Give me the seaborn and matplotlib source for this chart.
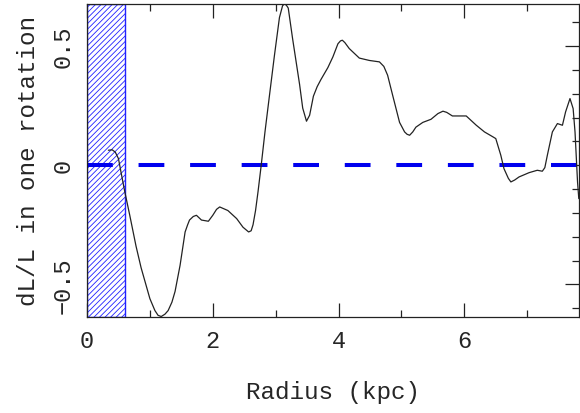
import matplotlib
matplotlib.use("Agg")
import matplotlib.pyplot as plt
import seaborn as sns
import pandas as pd

# curve
radius = [0.34, 0.40, 0.45, 0.50, 0.55, 0.60, 0.68, 0.78, 0.86, 1.00, 1.08, 1.13, 1.18, 1.24, 1.29,
          1.35, 1.40, 1.48, 1.56, 1.60, 1.63, 1.69, 1.74, 1.82, 1.93, 2.00, 2.06, 2.11, 2.24, 2.38, 2.48, 2.57,
          2.61, 2.64, 2.68, 2.72, 2.77, 2.83, 2.90, 2.98, 3.06, 3.11, 3.14, 3.17, 3.20, 3.27, 3.38, 3.43, 3.49,
          3.54, 3.60, 3.66, 3.72, 3.83, 3.91, 3.99, 4.03, 4.06, 4.10, 4.17, 4.33, 4.49, 4.65, 4.72, 4.78, 4.86,
          4.97, 5.05, 5.09, 5.13, 5.18, 5.23, 5.34, 5.47, 5.58, 5.66, 5.72, 5.81, 6.03, 6.19, 6.32, 6.45, 6.50, 6.58,
          6.63, 6.70, 6.74, 6.80, 6.87, 7.03, 7.16, 7.24, 7.28, 7.32, 7.40, 7.48, 7.56, 7.61, 7.68, 7.73, 7.76,
          7.80, 7.82]
dL_L = [0.063, 0.065, 0.055, 0.028, -0.042, -0.11, -0.21, -0.34, -0.43, -0.56, -0.61, -0.63, -0.635, -0.625, -0.61,
        -0.575, -0.53, -0.42, -0.28, -0.25, -0.23, -0.215, -0.21, -0.23, -0.235, -0.21, -0.185, -0.175, -0.19, -0.224, -0.26, -0.28,
        -0.275, -0.25, -0.19, -0.11, 0.0, 0.14, 0.29, 0.46, 0.62, 0.67, 0.677, 0.672, 0.66, 0.53, 0.34, 0.24, 0.185,
        0.21, 0.29, 0.33, 0.36, 0.41, 0.455, 0.51, 0.522, 0.525, 0.515, 0.49, 0.45, 0.44, 0.434, 0.415, 0.378, 0.294,
        0.18, 0.14, 0.13, 0.126, 0.14, 0.16, 0.18, 0.193, 0.217, 0.227, 0.222, 0.207, 0.207, 0.168, 0.14, 0.12, 0.112, 0.042,
        -0.014, -0.055, -0.07, -0.062, -0.049, -0.031, -0.021, -0.025, -0.01, 0.042, 0.14, 0.175, 0.168, 0.224, 0.28, 0.238, 0.14,
        -0.07, -0.14]

zero_x = [0.0, 7.83]
zero_y = [0.0, 0.0]
inner_edge = 0.6
x_range = (0.0, 7.83)
y_range = (-0.637, 0.677)

curve = pd.DataFrame({"radius": radius, "dL_L": dL_L})
zero = pd.DataFrame({"radius": zero_x, "dL_L": zero_y})

sns.set_style("ticks")
plt.rcParams["font.family"] = ["Liberation Mono", "DejaVu Sans Mono"]
plt.rcParams["hatch.color"] = "#2020ff"
plt.rcParams["hatch.linewidth"] = 0.6

fig = plt.figure(figsize=(5.8, 4.14), dpi=100)
ax = fig.add_axes([87 / 580, 1 - 318 / 414, 1 - 87 / 580 - 0.001, (318 - 5) / 414])

ax.axvspan(0, inner_edge, facecolor="white", edgecolor="#2020ff", hatch="//////", linewidth=1.0, zorder=1)
sns.lineplot(data=zero, x="radius", y="dL_L", ax=ax, color="#0000ee", linewidth=2.9,
             dashes=False, zorder=2).lines[-1].set_dashes((6.4, 6.4))
sns.lineplot(data=curve, x="radius", y="dL_L", ax=ax, color="#222222", linewidth=0.9,
             sort=False, zorder=3)

ax.set_xlim(*x_range)
ax.set_ylim(*y_range)
ax.set_xticks([0, 2, 4, 6])
ax.set_xticks([1, 3, 5, 7], minor=True)
ax.set_yticks([-0.5, 0, 0.5])
ax.set_yticklabels(["\u22120.5", "0", "0.5"])
ax.set_yticks([-0.6, -0.4, -0.3, -0.2, -0.1, 0.1, 0.2, 0.3, 0.4, 0.6], minor=True)
ax.tick_params(which="both", direction="in", top=True, right=True, labelsize=17, width=0.9, color="#222222")
ax.tick_params(which="major", length=10, pad=9)
ax.tick_params(which="minor", length=5)
ax.tick_params(axis="y", labelrotation=90)
for lab in ax.get_yticklabels():
    lab.set_va("center")
for s in ax.spines.values():
    s.set_linewidth(0.9)
    s.set_color("#222222")

ax.set_xlabel("Radius (kpc)", fontsize=17.5, labelpad=20)
ax.set_ylabel("dL/L in one rotation", fontsize=17.5, labelpad=8)

fig.savefig("out.png", dpi=100)
